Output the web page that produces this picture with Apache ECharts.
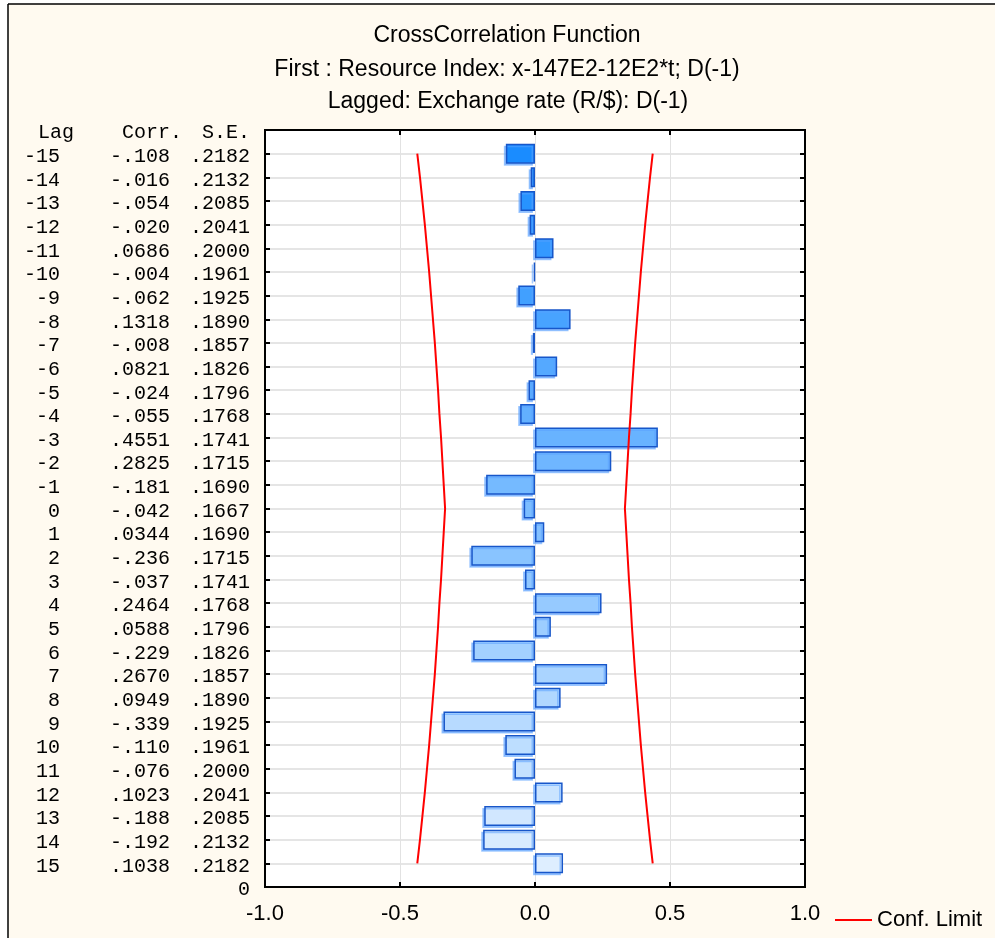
<!DOCTYPE html>
<html>
<head>
<meta charset="utf-8">
<script src="https://cdn.jsdelivr.net/npm/echarts@6/dist/echarts.min.js"></script>
<style>
  html, body { margin: 0; padding: 0; background: #fff; }
  #main { width: 995px; height: 938px; }
</style>
</head>
<body>
<div id="main"></div>
<script>
// table rows, top to bottom
var lags = ['-15', '-14', '-13', '-12', '-11', '-10', '-9', '-8', '-7', '-6', '-5', '-4', '-3', '-2', '-1',
    '0', '1', '2', '3', '4', '5', '6', '7', '8', '9', '10', '11', '12', '13', '14', '15'];
var corrText = ['-.108', '-.016', '-.054', '-.020', '.0686', '-.004', '-.062', '.1318', '-.008', '.0821',
    '-.024', '-.055', '.4551', '.2825', '-.181', '-.042', '.0344', '-.236', '-.037', '.2464', '.0588',
    '-.229', '.2670', '.0949', '-.339', '-.110', '-.076', '.1023', '-.188', '-.192', '.1038'];
var seText = ['.2182', '.2132', '.2085', '.2041', '.2000', '.1961', '.1925', '.1890', '.1857', '.1826',
    '.1796', '.1768', '.1741', '.1715', '.1690', '.1667', '.1690', '.1715', '.1741', '.1768', '.1796',
    '.1826', '.1857', '.1890', '.1925', '.1961', '.2000', '.2041', '.2085', '.2132', '.2182'];
// confidence limit
var confLimit = [0.436, 0.426, 0.417, 0.408, 0.400, 0.392, 0.385, 0.378, 0.371, 0.365, 0.359, 0.354,
    0.348, 0.343, 0.338, 0.333, 0.338, 0.343, 0.348, 0.354, 0.359, 0.365, 0.371, 0.378, 0.385, 0.392,
    0.400, 0.408, 0.417, 0.426, 0.436];
var xTicks = [-1.0, -0.5, 0.0, 0.5, 1.0];

var HEADER = 'hdr', BOTTOM = 'bottom';
var cats = [HEADER].concat(lags).concat([BOTTOM]);
var corrVals = ['-'].concat(corrText.map(Number)).concat(['-']);
var upper = ['-'].concat(confLimit).concat(['-']);
var lower = ['-'].concat(confLimit.map(function (v) { return -v; })).concat(['-']);

// bar fill goes from strong blue (top) to pale blue (bottom)
function barColor(i) {
    var a = [26, 140, 255], b = [222, 238, 255];
    var t = (i - 1) / (lags.length - 1);
    var c = a.map(function (v, k) { return Math.round(v + (b[k] - v) * t); });
    return 'rgb(' + c.join(',') + ')';
}

function inner(i) { return i > 0 && i < cats.length - 1; }

var mono = function (w, al) {
    return { width: w, align: al, fontFamily: 'Liberation Mono', fontSize: 20, color: '#000' };
};

var myChart = echarts.init(document.getElementById('main'));

var titleFont = '23px "Liberation Sans"';

var option = {
    backgroundColor: '#fffaf0',
    animation: false,
    textStyle: { fontFamily: 'Liberation Sans' },
    graphic: [
        { type: 'rect', shape: { x: 0, y: 0, width: 995, height: 4 }, style: { fill: '#fff' } },
        { type: 'rect', shape: { x: 0, y: 0, width: 8, height: 938 }, style: { fill: '#fff' } },
        { type: 'line', shape: { x1: 8, y1: 4, x2: 995, y2: 4 }, style: { stroke: '#000', lineWidth: 1.5 } },
        { type: 'line', shape: { x1: 8, y1: 4, x2: 8, y2: 938 }, style: { stroke: '#000', lineWidth: 1.5 } },
        { type: 'text', x: 507, y: 36, style: { text: 'CrossCorrelation Function', font: titleFont, fill: '#000', align: 'center', verticalAlign: 'middle' } },
        { type: 'text', x: 507, y: 70, style: { text: 'First : Resource Index: x-147E2-12E2*t; D(-1)', font: titleFont, fill: '#000', align: 'center', verticalAlign: 'middle' } },
        { type: 'text', x: 508, y: 102, style: { text: 'Lagged: Exchange rate (R/$): D(-1)', font: titleFont, fill: '#000', align: 'center', verticalAlign: 'middle' } }
    ],
    legend: {
        data: [{ name: 'Conf. Limit', icon: 'rect' }],
        left: 830,
        top: 904,
        itemWidth: 37,
        itemHeight: 2,
        itemGap: 10,
        textStyle: { fontSize: 22, color: '#000', fontFamily: 'Liberation Sans', padding: [2, 0, 0, 0] }
    },
    grid: {
        left: 265,
        right: 190,
        top: 130,
        bottom: 51,
        show: true,
        backgroundColor: '#fff',
        borderColor: '#000',
        borderWidth: 2
    },
    xAxis: [{
        type: 'value',
        min: -1,
        max: 1,
        interval: 0.5,
        position: 'bottom',
        axisLine: { show: true, onZero: false, lineStyle: { color: '#000', width: 2 } },
        axisTick: { show: true, inside: true, length: 5, lineStyle: { color: '#000', width: 2 } },
        axisLabel: {
            margin: 16,
            fontSize: 22,
            color: '#000',
            fontFamily: 'Liberation Sans',
            formatter: function (v) { return xTicks.indexOf(v) >= 0 ? v.toFixed(1) : ''; }
        },
        splitLine: { show: true, lineStyle: { color: '#e2e2e2', width: 1 } }
    }, {
        type: 'value',
        min: -1,
        max: 1,
        interval: 0.5,
        position: 'top',
        axisLine: { show: true, onZero: false, lineStyle: { color: '#000', width: 2 } },
        axisTick: { show: true, inside: true, length: 5, lineStyle: { color: '#000', width: 2 } },
        axisLabel: { show: false },
        splitLine: { show: false }
    }],
    yAxis: [{
        type: 'category',
        data: cats,
        inverse: true,
        boundaryGap: false,
        position: 'left',
        axisLine: { show: true, onZero: false, lineStyle: { color: '#000', width: 2 } },
        axisTick: { show: true, inside: true, length: 5, interval: inner, lineStyle: { color: '#000', width: 2 } },
        splitLine: { show: true, interval: inner, lineStyle: { color: '#dcdcdc', width: 1.5 } },
        axisLabel: {
            interval: 0,
            margin: 15,
            padding: [6, 0, 0, 0],
            fontFamily: 'Liberation Mono',
            fontSize: 20,
            color: '#000',
            formatter: function (v, i) {
                if (v === HEADER) return '{hl|Lag}{hc|Corr.}{hs|S.E.}';
                if (v === BOTTOM) return '{b|0}';
                var k = i - 1;
                return '{lag|' + lags[k] + '}{corr|' + corrText[k] + '}{se|' + seText[k] + '}';
            },
            rich: {
                lag: mono(50, 'right'),
                corr: mono(110, 'right'),
                se: mono(80, 'right'),
                hl: mono(64, 'right'),
                hc: mono(108, 'right'),
                hs: mono(68, 'right'),
                b: mono(240, 'right')
            }
        }
    }, {
        type: 'category',
        data: cats,
        inverse: true,
        boundaryGap: false,
        position: 'right',
        axisLine: { show: true, onZero: false, lineStyle: { color: '#000', width: 2 } },
        axisTick: { show: true, inside: true, length: 5, interval: inner, lineStyle: { color: '#000', width: 2 } },
        axisLabel: { show: false },
        splitLine: { show: false }
    }],
    series: [{
        name: 'Corr',
        type: 'bar',
        xAxisIndex: 0,
        yAxisIndex: 0,
        barWidth: 20,
        data: corrVals,
        itemStyle: {
            color: function (p) { return barColor(p.dataIndex); },
            borderColor: '#1756c9',
            borderWidth: 1.5,
            shadowColor: 'rgba(90,160,255,0.55)',
            shadowOffsetX: -2,
            shadowOffsetY: 2
        },
        z: 3
    }, {
        name: 'Conf. Limit',
        type: 'line',
        xAxisIndex: 0,
        yAxisIndex: 0,
        data: lower,
        symbol: 'none',
        lineStyle: { color: '#ff0000', width: 2 },
        itemStyle: { color: '#ff0000' },
        z: 4
    }, {
        name: 'Conf. Limit',
        type: 'line',
        xAxisIndex: 0,
        yAxisIndex: 0,
        data: upper,
        symbol: 'none',
        lineStyle: { color: '#ff0000', width: 2 },
        itemStyle: { color: '#ff0000' },
        z: 4
    }]
};

myChart.setOption(option);
</script>
</body>
</html>
